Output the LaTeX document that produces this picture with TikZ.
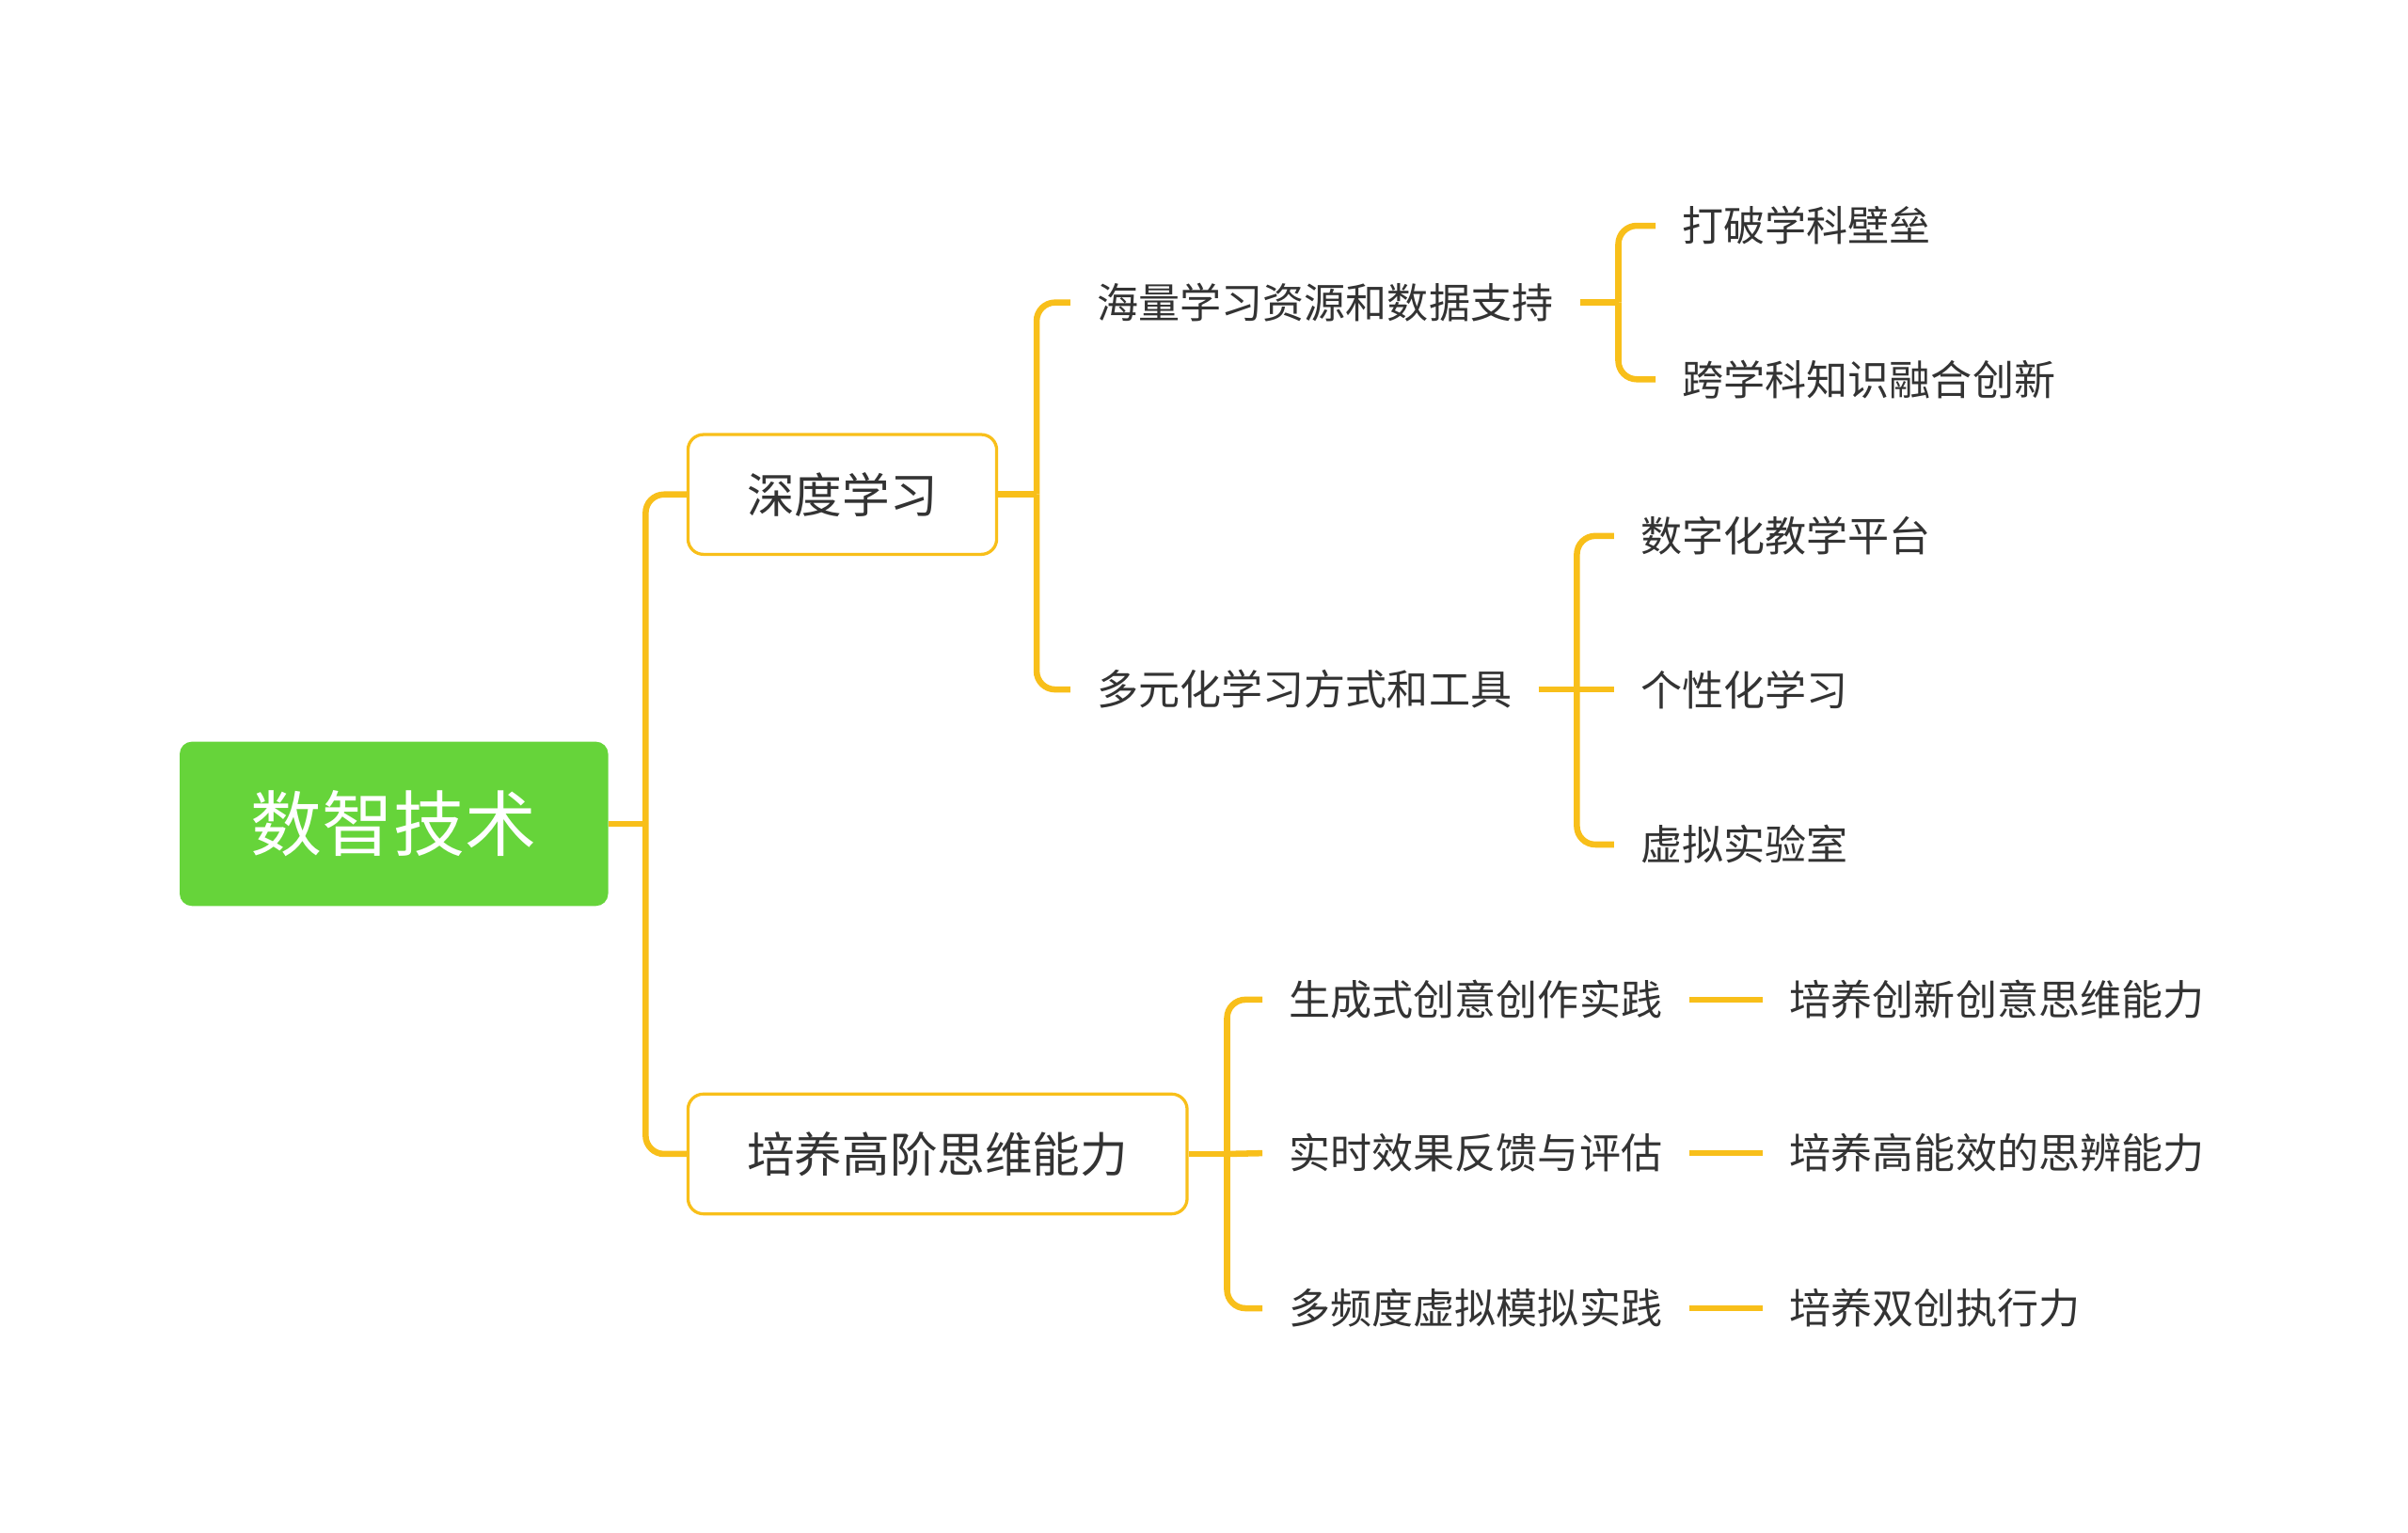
\documentclass[tikz,border=0pt]{standalone}
\usepackage{fontspec}
\setmainfont{Noto Sans CJK SC}
\definecolor{rootgreen}{HTML}{66D43A}
\definecolor{branchyellow}{HTML}{F8BF1A}
\definecolor{textgray}{HTML}{333333}
\newcommand{\branchcolor}{branchyellow}
\newcommand{\branchwidth}{2pt}
\newcommand{\forkgap}{25}

\tikzset{
  rootbox/.style={fill=rootgreen, rounded corners=4pt, text=white,
    font=\fontsize{23.25}{28}\selectfont, inner xsep=23.25pt, minimum height=53.5pt},
  topicbox/.style={draw=\branchcolor, line width=1pt, fill=white, rounded corners=5pt,
    text=textgray, font=\fontsize{15.5}{19}\selectfont, inner xsep=19.25pt,
    minimum height=39pt, anchor=west},
  leaf/.style={text=textgray, font=\fontsize{13.5}{16}\selectfont,
    inner xsep=8.5pt, inner ysep=2pt, anchor=west},
  branch/.style={draw=\branchcolor, line width=\branchwidth, rounded corners=6pt}
}

\begin{document}
\begin{tikzpicture}[x=0.5pt,y=-0.5pt]
\useasboundingbox (0,0) rectangle (1568,998);
\node[rootbox] (root) at (256.5, 536.5) {数智技术};
\node[topicbox] (deep) at (447, 322) {深度学习};
\node[topicbox] (skill) at (447, 751.5) {培养高阶思维能力};
%deep
\node[leaf] (sea) at (697, 197) {海量学习资源和数据支持};
\node[leaf] (multi) at (697, 449) {多元化学习方式和工具};
\node[leaf] (break) at (1078, 147) {打破学科壁垒};
\node[leaf] (cross) at (1078, 247) {跨学科知识融合创新};
\node[leaf] (digital) at (1051, 349) {数字化教学平台};
\node[leaf] (personal) at (1051, 449) {个性化学习};
\node[leaf] (vlab) at (1051, 550) {虚拟实验室};
%skill
\node[leaf] (gen) at (822, 651) {生成式创意创作实践};
\node[leaf] (realtime) at (822, 751) {实时效果反馈与评估};
\node[leaf] (freq) at (822, 852) {多频度虚拟模拟实践};
\node[leaf] (innov) at (1148, 651) {培养创新创意思维能力};
\node[leaf] (critical) at (1148, 751) {培养高能效的思辨能力};
\node[leaf] (execute) at (1148, 852) {培养双创执行力};
%root
\draw[branch] (root.east) -- ++(24,0) coordinate (rootF);
\draw[branch] (rootF) |- (deep.west);
\draw[branch] (rootF) |- (skill.west);
%deep
\draw[branch] (deep.east) -- ++(\forkgap,0) coordinate (deepF);
\draw[branch] (deepF) |- (sea.west);
\draw[branch] (deepF) |- (multi.west);
%sea
\draw[branch] (sea.east) -- ++(\forkgap,0) coordinate (seaF);
\draw[branch] (seaF) |- (break.west);
\draw[branch] (seaF) |- (cross.west);
%multi
\draw[branch] (multi.east) -- ++(\forkgap,0) coordinate (multiF);
\draw[branch] (multiF) |- (digital.west);
\draw[branch] (multiF) -- (personal.west);
\draw[branch] (multiF) |- (vlab.west);
%skill
\draw[branch] (skill.east) -- ++(\forkgap,0) coordinate (skillF);
\draw[branch] (skillF) |- (gen.west);
\draw[branch] (skillF) -- (realtime.west);
\draw[branch] (skillF) |- (freq.west);
%leaves
\draw[branch] (gen.east) -- (innov.west);
\draw[branch] (realtime.east) -- (critical.west);
\draw[branch] (freq.east) -- (execute.west);
\end{tikzpicture}
\end{document}
